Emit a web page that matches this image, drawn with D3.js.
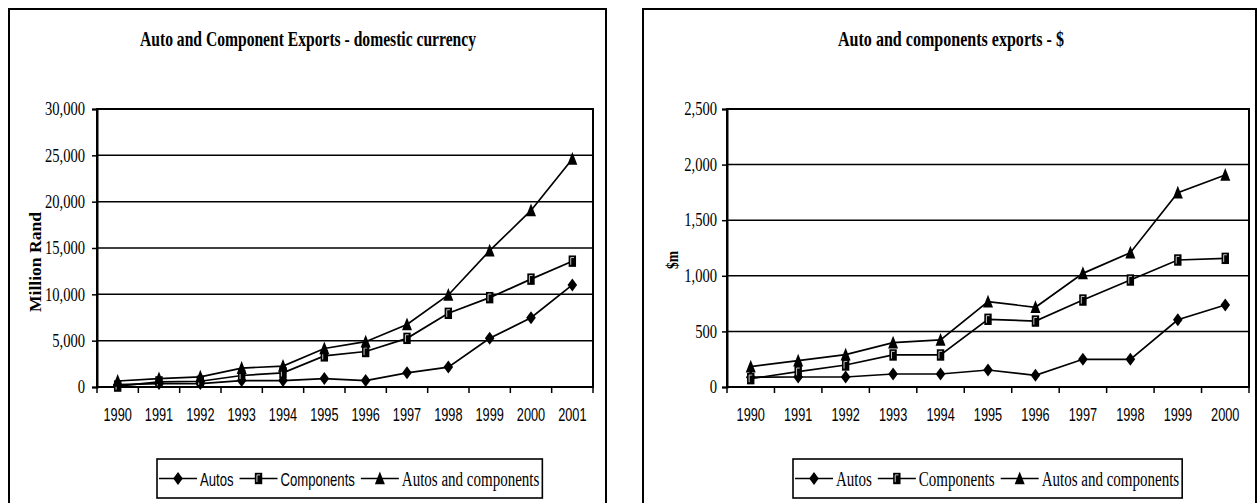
<!DOCTYPE html>
<html><head><meta charset="utf-8">
<script src="https://cdn.jsdelivr.net/npm/d3@7"></script>
<style>body{margin:0;background:#fff}svg{display:block}</style>
</head><body>
<svg id="c" width="1258" height="503"></svg>
<script>
// ---------- DATA ----------
const yearsRand = ["1990","1991","1992","1993","1994","1995","1996","1997","1998","1999","2000","2001"];
const autosRand = [250, 370, 370, 690, 690, 910, 690, 1530, 2150, 5250, 7480, 11020];
const componentsRand = [100, 550, 620, 1240, 1530, 3360, 3830, 5250, 7950, 9640, 11640, 13580];
const totalRand = [650, 910, 1100, 2040, 2260, 4160, 4890, 6750, 9930, 14710, 19050, 24600];
const ticksRand = [0, 5000, 10000, 15000, 20000, 25000, 30000];

const yearsUsd = ["1990","1991","1992","1993","1994","1995","1996","1997","1998","1999","2000"];
const autosUsd = [88, 90, 90, 117, 117, 153, 105, 249, 249, 605, 737];
const componentsUsd = [75, 138, 198, 288, 288, 609, 593, 782, 962, 1142, 1157];
const totalUsd = [183, 237, 291, 399, 423, 767, 717, 1022, 1208, 1747, 1906];
const ticksUsd = [0, 500, 1000, 1500, 2000, 2500];

const seriesNames = ["Autos", "Components", "Autos and components"];
const markerTypes = ["diamond", "square", "triangle"];

const SERIF = "'Liberation Serif','Times New Roman',serif";
const SANS = "'Liberation Sans',Arial,sans-serif";

const svg = d3.select("#c");

function condense(sel, factor) {
  sel.each(function () {
    const w = this.getComputedTextLength();
    d3.select(this).attr("textLength", w * factor).attr("lengthAdjust", "spacingAndGlyphs");
  });
}
function fitWidth(sel, width) {
  sel.attr("textLength", width).attr("lengthAdjust", "spacingAndGlyphs");
}

function marker(g, type) {
  if (type === "diamond") {
    g.append("path").attr("d", "M0,-6.5L4.8,0L0,6.5L-4.8,0Z").attr("fill", "#000");
  } else if (type === "square") {
    g.append("rect").attr("x", -3.7).attr("y", -5.7).attr("width", 7.4).attr("height", 11.4).attr("fill", "#000");
    g.append("path").attr("d", "M-1.6,3.6V-3.6H1.6").attr("fill", "none").attr("stroke", "#ddd").attr("stroke-width", 0.9);
  } else {
    g.append("path").attr("d", "M0,-7L5,5.8L-5,5.8Z").attr("fill", "#000");
  }
}

function drawChart(cfg) {
  const g = svg.append("g");
  // outer frame (bottom edge beyond the canvas)
  g.append("rect").attr("x", cfg.frame[0]).attr("y", cfg.frame[1])
    .attr("width", cfg.frame[2]).attr("height", 520)
    .attr("fill", "none").attr("stroke", "#000").attr("stroke-width", 2);

  // title
  g.append("text").attr("x", cfg.titleX).attr("y", 46).attr("text-anchor", "middle")
    .attr("font-family", SERIF).attr("font-weight", "bold").attr("font-size", 21)
    .text(cfg.title).call(fitWidth, cfg.titleW);

  const x = d3.scaleBand().domain(cfg.years).range([cfg.plot[0], cfg.plot[1]]).padding(0);
  const y = d3.scaleLinear().domain([0, d3.max(cfg.ticks)]).range([cfg.plot[3], cfg.plot[2]]);

  // gridlines
  g.append("g").selectAll("line").data(cfg.ticks.filter(d => d > 0)).join("line")
    .attr("x1", cfg.plot[0]).attr("x2", cfg.plot[1])
    .attr("y1", d => y(d)).attr("y2", d => y(d))
    .attr("stroke", "#000").attr("stroke-width", 1.5);

  // plot border
  g.append("rect").attr("x", cfg.plot[0]).attr("y", cfg.plot[2])
    .attr("width", cfg.plot[1] - cfg.plot[0]).attr("height", cfg.plot[3] - cfg.plot[2])
    .attr("fill", "none").attr("stroke", "#000").attr("stroke-width", 2);

  // y axis
  const ya = g.append("g").attr("transform", `translate(${cfg.plot[0]},0)`)
    .call(d3.axisLeft(y).tickValues(cfg.ticks).tickFormat(d3.format(",")).tickSize(5).tickPadding(cfg.yPad));
  ya.select(".domain").attr("stroke", "#000").attr("stroke-width", 2);
  ya.selectAll(".tick line").attr("stroke", "#000").attr("stroke-width", 1.5);
  ya.selectAll("text").attr("font-family", SERIF).attr("font-size", 18).attr("fill", "#000").call(condense, 0.81);

  // x axis: labels + boundary ticks
  const xa = g.append("g").attr("transform", `translate(0,${cfg.plot[3]})`)
    .call(d3.axisBottom(x).tickSize(0).tickPadding(0));
  xa.select(".domain").remove();
  xa.selectAll("text").attr("font-family", SANS).attr("font-size", 19).attr("fill", "#000")
    .attr("y", 34).attr("dy", null).call(condense, 0.67);
  const bounds = cfg.years.map(d => x(d)).concat([cfg.plot[1]]);
  g.append("g").selectAll("line").data(bounds).join("line")
    .attr("x1", d => d).attr("x2", d => d)
    .attr("y1", cfg.plot[3]).attr("y2", cfg.plot[3] + 6)
    .attr("stroke", "#000").attr("stroke-width", 1.5);
  g.append("line").attr("x1", cfg.plot[0]).attr("x2", cfg.plot[1])
    .attr("y1", cfg.plot[3]).attr("y2", cfg.plot[3]).attr("stroke", "#000").attr("stroke-width", 2);

  // y axis title
  g.append("text").attr("transform", `translate(${cfg.yLabel[0]},${cfg.yLabel[1]}) rotate(-90)`)
    .attr("text-anchor", "middle").attr("dy", "0.35em")
    .attr("font-family", SERIF).attr("font-weight", "bold").attr("font-size", 17)
    .text(cfg.yTitle).call(fitWidth, cfg.yTitleW);

  // series
  const series = [cfg.autos, cfg.components, cfg.total];
  const line = d3.line().x((d, i) => x(cfg.years[i]) + x.bandwidth() / 2).y(d => y(d));
  series.forEach((vals) => {
    g.append("path").datum(vals).attr("d", line)
      .attr("fill", "none").attr("stroke", "#000").attr("stroke-width", 1.7);
  });
  series.forEach((vals, si) => {
    g.append("g").selectAll("g").data(vals).join("g")
      .attr("transform", (d, i) => `translate(${x(cfg.years[i]) + x.bandwidth() / 2},${y(d)})`)
      .each(function () { marker(d3.select(this), markerTypes[si]); });
  });

  // legend
  const lg = g.append("g");
  const box = lg.append("rect").attr("y", 459).attr("height", 39)
    .attr("fill", "#fff").attr("stroke", "#000").attr("stroke-width", 1.6);
  let cx = cfg.legendX + 2;
  seriesNames.forEach((name, i) => {
    lg.append("line").attr("x1", cx).attr("x2", cx + 38).attr("y1", 478.5).attr("y2", 478.5)
      .attr("stroke", "#000").attr("stroke-width", 1.7);
    marker(lg.append("g").attr("transform", `translate(${cx + 19},478.5)`), markerTypes[i]);
    cx += 41;
    const serif = cfg.legendFonts[i] === "serif";
    const t = lg.append("text").attr("x", cx).attr("y", 486)
      .attr("font-family", serif ? SERIF : SANS).attr("font-size", serif ? 20 : 19)
      .text(name);
    t.call(condense, serif ? 0.75 : 0.69);
    cx += +t.attr("textLength") + 6;
  });
  box.attr("x", cfg.legendX).attr("width", cx - cfg.legendX - 3);
}

drawChart({
  frame: [9, 9, 597], title: "Auto and Component Exports - domestic currency", titleX: 308, titleW: 336,
  plot: [97, 593, 109, 387], years: yearsRand, ticks: ticksRand, yPad: 7,
  autos: autosRand, components: componentsRand, total: totalRand,
  yTitle: "Million Rand", yTitleW: 100, yLabel: [35, 262],
  legendX: 157, legendFonts: ["sans", "sans", "serif"]
});
drawChart({
  frame: [643, 9, 613], title: "Auto and components exports - $", titleX: 951, titleW: 226,
  plot: [727, 1249, 109, 387], years: yearsUsd, ticks: ticksUsd, yPad: 5,
  autos: autosUsd, components: componentsUsd, total: totalUsd,
  yTitle: "$m", yTitleW: 18, yLabel: [672, 260],
  legendX: 793, legendFonts: ["serif", "serif", "serif"]
});
</script>
</body></html>
